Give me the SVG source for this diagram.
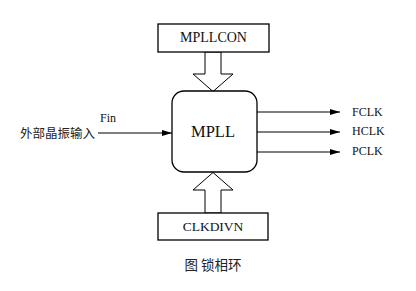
<svg xmlns="http://www.w3.org/2000/svg" width="416" height="291" viewBox="0 0 416 291">
<defs>
<style>
.box{fill:#fff;stroke:#000;stroke-width:1.3}
.hollow{fill:#fff;stroke:#000;stroke-width:1}
.line{stroke:#000;stroke-width:1.2;fill:none}
.t{font-family:"Liberation Serif","Times New Roman",serif;fill:#111}
.cjk{font-family:"Noto Sans CJK SC",sans-serif;fill:#222}
</style>
<marker id="ah" viewBox="0 0 10 6" refX="10" refY="3" markerWidth="10" markerHeight="6" markerUnits="userSpaceOnUse" orient="auto">
<path d="M0,0 L10,3 L0,6 Z" fill="#000"/>
</marker>
</defs>
<rect width="416" height="291" fill="#fff"/>
<g id="connectors">
<path class="hollow" d="M205,52 L221,52 L221,74 L233,74 L213,91.5 L193,74 L205,74 Z"/>
<path class="hollow" d="M205,213 L221,213 L221,190 L233,190 L213,172.5 L193,190 L205,190 Z"/>
<line class="line" x1="98" y1="133" x2="172" y2="133" marker-end="url(#ah)"/>
<line class="line" x1="257" y1="112" x2="340" y2="112" marker-end="url(#ah)"/>
<line class="line" x1="257" y1="132" x2="340" y2="132" marker-end="url(#ah)"/>
<line class="line" x1="257" y1="152" x2="340" y2="152" marker-end="url(#ah)"/>
<text class="t" x="100" y="122" font-size="12">Fin</text>
</g>
<g id="mpllcon">
<rect class="box" x="158" y="24" width="111" height="28"/>
<text class="t" x="213.5" y="42" font-size="14" text-anchor="middle">MPLLCON</text>
</g>
<g id="mpll">
<rect class="box" x="172" y="91" width="85" height="81" rx="12" ry="12"/>
<text class="t" x="213" y="137" font-size="16.5" text-anchor="middle">MPLL</text>
</g>
<g id="clkdivn">
<rect class="box" x="158" y="213" width="110" height="27"/>
<text class="t" x="213" y="231" font-size="13.5" text-anchor="middle">CLKDIVN</text>
</g>
<g id="input">
<text class="cjk" x="20" y="137.5" font-size="12.5">外部晶振输入</text>
</g>
<g id="outputs">
<text class="t" x="352" y="116" font-size="12">FCLK</text>
<text class="t" x="352" y="135" font-size="12">HCLK</text>
<text class="t" x="352" y="155" font-size="12">PCLK</text>
</g>
<g id="caption">
<text class="cjk" x="213" y="270" font-size="13.5" text-anchor="middle">图 锁相环</text>
</g>
</svg>
